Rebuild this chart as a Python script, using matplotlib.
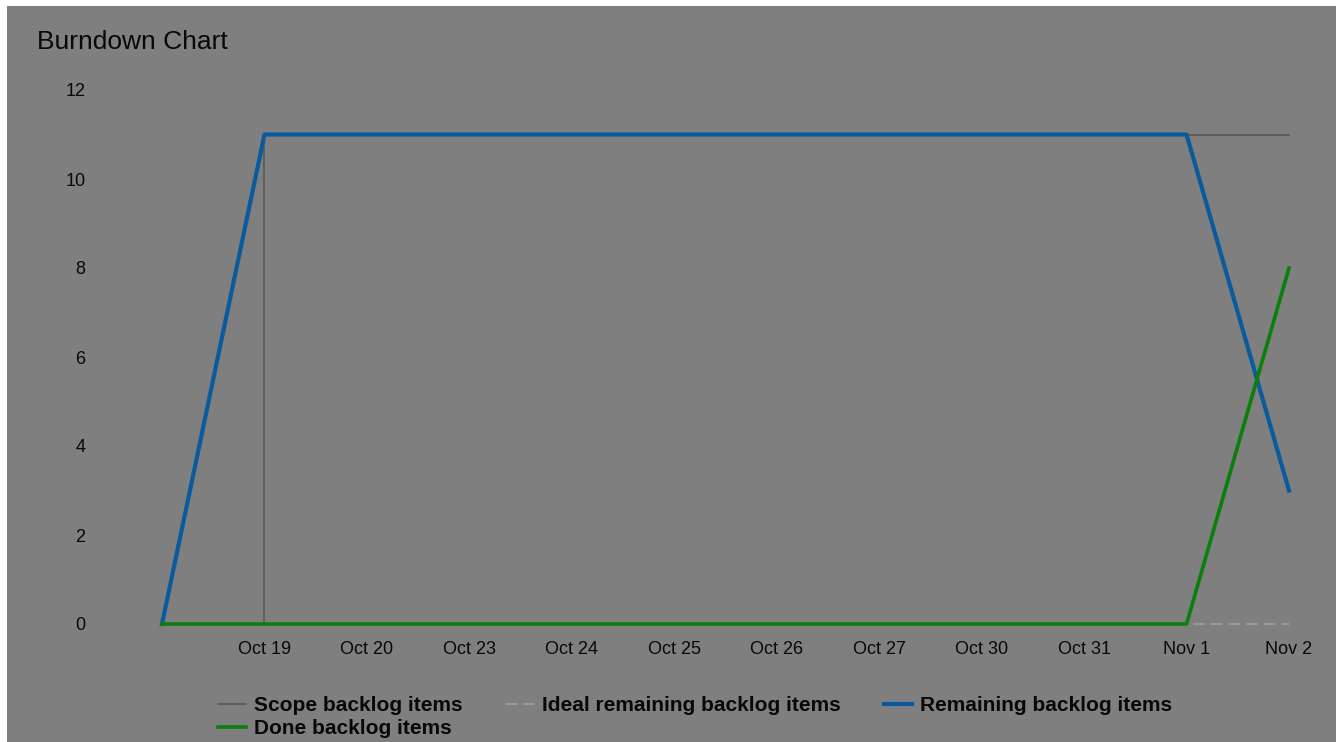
import matplotlib
matplotlib.use('Agg')
import matplotlib.pyplot as plt
from matplotlib.patches import Rectangle

# ── data ─────────────────────────────────────────
dates = ['', 'Oct 19', 'Oct 20', 'Oct 23', 'Oct 24', 'Oct 25', 'Oct 26',
         'Oct 27', 'Oct 30', 'Oct 31', 'Nov 1', 'Nov 2']
scope     = [0, 11, 11, 11, 11, 11, 11, 11, 11, 11, 11, 11]   # drawn as steps-post
ideal     = [0, 0, 0, 0, 0, 0, 0, 0, 0, 0, 0, 0]
remaining = [0, 11, 11, 11, 11, 11, 11, 11, 11, 11, 11, 3]
done      = [0, 0, 0, 0, 0, 0, 0, 0, 0, 0, 0, 8]
yticks    = [0, 2, 4, 6, 8, 10, 12]

plt.rcParams['font.family'] = ['Liberation Sans', 'DejaVu Sans']

BG = '#7f7f7f'
TXT = '#080808'

fig = plt.figure(figsize=(13.36, 7.42), dpi=100, facecolor='white')
fig.patches.append(Rectangle((7 / 1336, 0), 1, 1 - 6 / 742, transform=fig.transFigure,
                             facecolor=BG, edgecolor='none', zorder=-10))

ax = fig.add_axes([162 / 1336, 1 - 624 / 742, (1289 - 162) / 1336, (624 - 90) / 742])
ax.set_facecolor('none')

x = range(len(dates))
l_scope, = ax.plot(x, scope, color='#555555', lw=1.1, drawstyle='steps-post',
                   label='Scope backlog items', clip_on=False)
l_ideal, = ax.plot(x, ideal, color='#9a9a9a', lw=1.6, dashes=(5, 3),
                   label='Ideal remaining backlog items', clip_on=False)
l_rem, = ax.plot(x, remaining, color='#0a5a9e', lw=3.0,
                 label='Remaining backlog items', clip_on=False)
l_done, = ax.plot(x, done, color='#0a800a', lw=2.6,
                  label='Done backlog items', clip_on=False)

ax.set_xlim(0, len(dates) - 1)
ax.set_ylim(0, 12)
ax.set_xticks(list(x))
ax.set_xticklabels(dates)
ax.set_yticks(yticks)
ax.tick_params(axis='both', length=0, labelsize=13, labelcolor=TXT)
ax.tick_params(axis='y', pad=55)
ax.tick_params(axis='x', pad=12)
for s in ax.spines.values():
    s.set_visible(False)

fig.text(37 / 1336, 1 - 49 / 742, 'Burndown Chart', fontsize=19, color=TXT,
         ha='left', va='baseline')

handles = [l_scope, l_done, l_ideal, l_rem]
leg = fig.legend(handles=handles, labels=[h.get_label() for h in handles],
                 loc='upper left', bbox_to_anchor=(218 / 1336, 1 - 696 / 742),
                 ncol=3, frameon=False, borderpad=0, borderaxespad=0,
                 handlelength=1.35, handletextpad=0.4, columnspacing=2.05,
                 labelspacing=0.2, prop={'size': 15, 'weight': 'bold'})
for t in leg.get_texts():
    t.set_color(TXT)

fig.savefig('out.png', dpi=100, facecolor=fig.get_facecolor())
